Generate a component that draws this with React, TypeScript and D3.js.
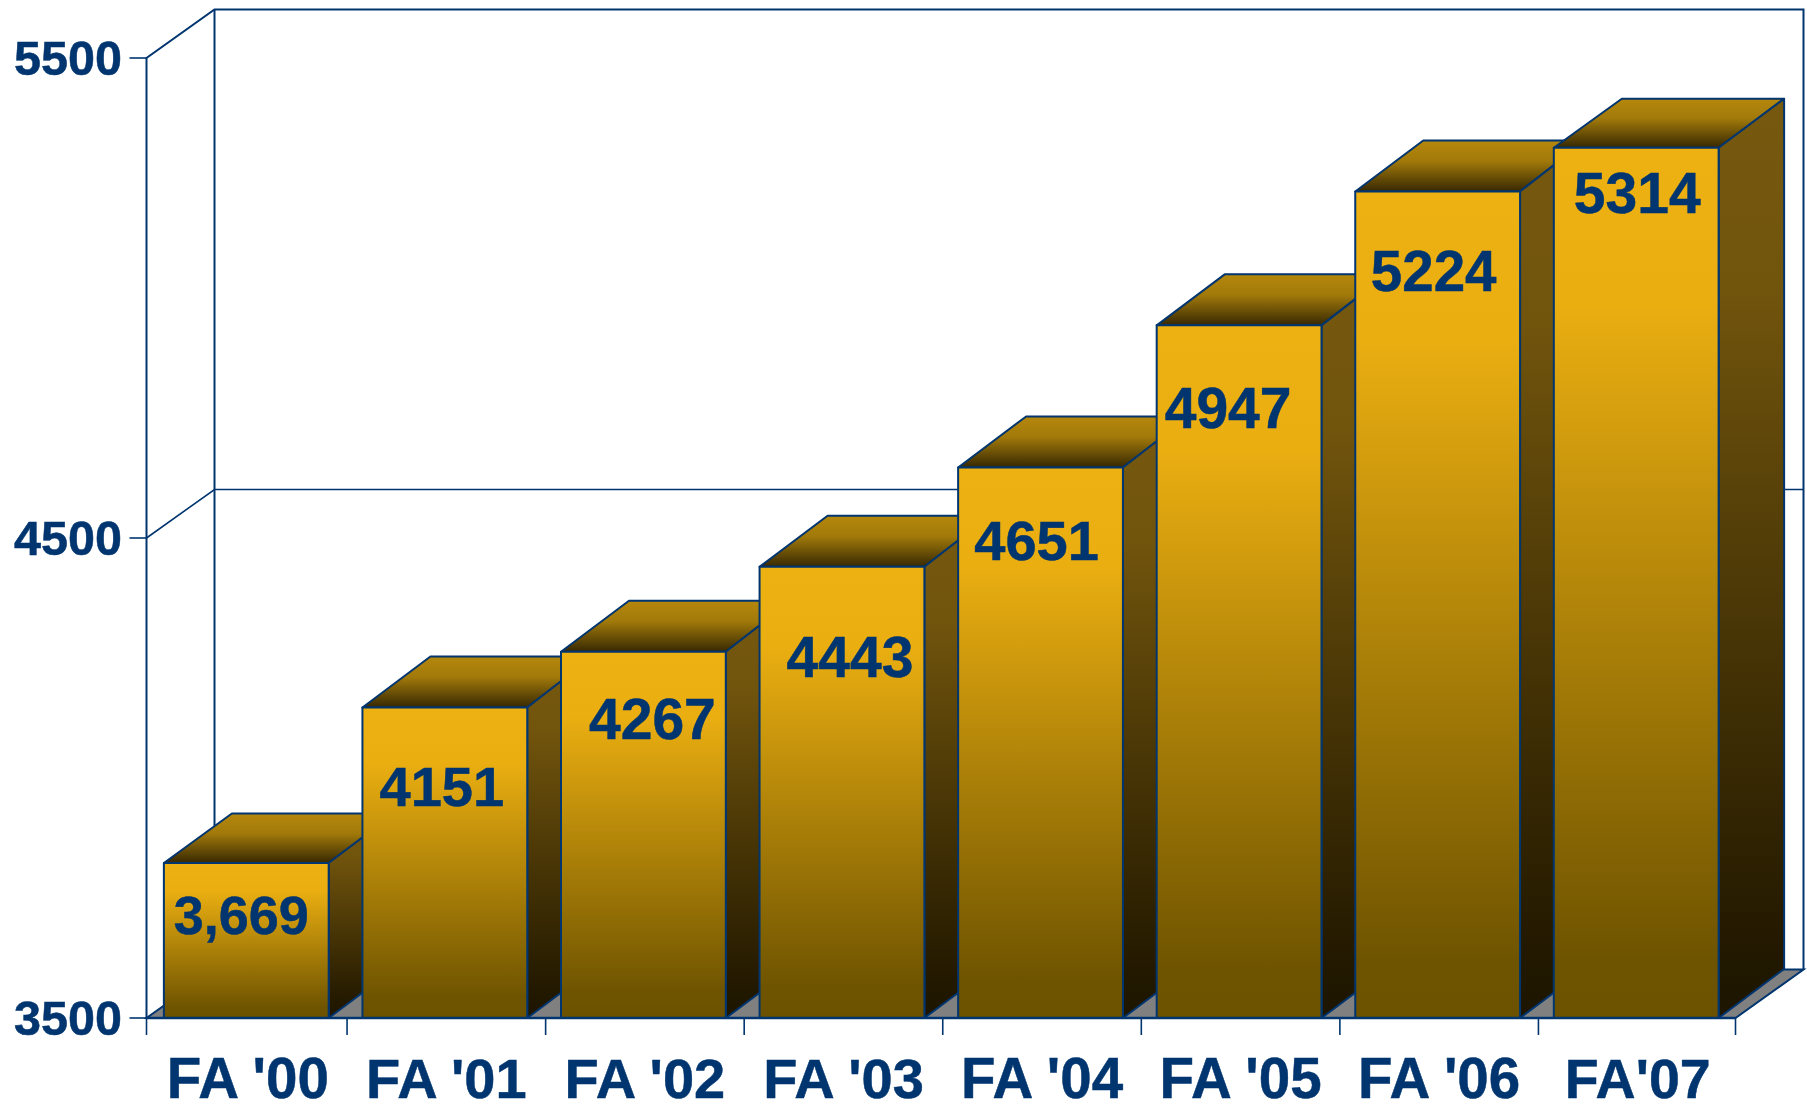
import React from "react";
import * as d3 from "d3";

const categories = ["FA '00", "FA '01", "FA '02", "FA '03", "FA '04", "FA '05", "FA '06", "FA'07"];
const barHeights = [3823, 4147, 4263, 4440, 4647, 4943, 5222, 5313];
const barLabels = ["3,669", "4151", "4267", "4443", "4651", "4947", "5224", "5314"];
const yTicks = [3500, 4500, 5500];
// Hand-placed label nudges from each bar's centre x, and drop below the bar top.
const labelDx = [-5, -3, 9, 8, -4, -11, -4, 1];
const labelDrop = [71, 99, 87, 110, 93, 103, 100, 65];
const labelSize = [54, 56, 57, 57, 56, 57, 56.5, 57];
const xLabelSize = [56.5, 56, 56, 56, 56.5, 56.5, 56.5, 55.5];
// The depth of the bars' top faces differs slightly from bar to bar.
const topDepth = [49.5, 51, 51, 51, 51, 51, 51, 49];

const W = 1807, H = 1104;
const LINE = "#00356f";
const x = d3.scaleBand<string>().domain(categories).range([147, 1735.5]).paddingInner(0.17).paddingOuter(0.085);
const y = d3.scaleLinear().domain([3500, 5500]).range([1018, 58]);
const AX0 = 146.5, AX1 = 1735.5;
const WALL_DX = 68, WALL_DY = 48.5, BACK_L = 68, BACK_R = 65.5;
const FONT = "'Liberation Sans', Arial, sans-serif";
const pts = (p: number[][]) => p.map((q) => q.join(",")).join(" ");

export default function App() {
  const x0 = AX0, x1 = AX1, yB = y(3500), yT = y(5500);
  return (
    <svg width={W} height={H} viewBox={`0 0 ${W} ${H}`} style={{ position: "absolute", left: 0, top: 0, background: "#fff" }}>
      <defs>
        <linearGradient id="front" x1="0" y1="0" x2="0" y2="1">
          <stop offset="0" stopColor="#edb112" />
          <stop offset="0.18" stopColor="#eaae11" />
          <stop offset="0.93" stopColor="#6f5400" />
          <stop offset="1" stopColor="#6c5200" />
        </linearGradient>
        <linearGradient id="side" x1="0" y1="0" x2="0" y2="1">
          <stop offset="0" stopColor="#76580f" />
          <stop offset="0.2" stopColor="#72550d" />
          <stop offset="0.92" stopColor="#231900" />
          <stop offset="1" stopColor="#1d1500" />
        </linearGradient>
        <linearGradient id="top" x1="0" y1="0" x2="0" y2="1">
          <stop offset="0" stopColor="#b5870c" />
          <stop offset="0.4" stopColor="#a27a0a" />
          <stop offset="1" stopColor="#382902" />
        </linearGradient>
      </defs>

      <g fill="none" stroke={LINE} strokeWidth={2}>
        <polyline points={pts([[x0, yB], [x0, yT], [x0 + WALL_DX, yT - WALL_DY], [x1 + WALL_DX, yT - WALL_DY], [x1 + WALL_DX, yB - WALL_DY]])} />
        <line x1={x0 + WALL_DX} x2={x0 + WALL_DX} y1={yT - WALL_DY} y2={yB - WALL_DY} />
        <polyline points={pts([[x0, y(4500)], [x0 + WALL_DX, y(4500) - WALL_DY], [x1 + WALL_DX, y(4500) - WALL_DY]])} strokeWidth={1.6} />
      </g>
      <polygon points={pts([[x0, yB], [x0 + WALL_DX, yB - WALL_DY], [x1 + WALL_DX, yB - WALL_DY], [x1, yB]])} fill="#808080" stroke={LINE} strokeWidth={2} />

      <g stroke={LINE} strokeWidth={1.6}>
        {yTicks.map((t) => <line key={t} x1={x0 - 17} x2={x0} y1={y(t)} y2={y(t)} />)}
        {categories.map((c, i) => {
          const tx = i === 0 ? x0 : x(c)! - x.step() * 0.085 + 1.5;
          return <line key={c} x1={tx} x2={tx} y1={yB} y2={yB + 17} />;
        })}
        <line x1={x1} x2={x1} y1={yB} y2={yB + 17} />
      </g>

      {categories.map((c, i) => {
        const l = x(c)!, r = l + x.bandwidth(), t = y(barHeights[i]), d = topDepth[i];
        return (
          <g key={c} stroke={LINE} strokeWidth={2} strokeLinejoin="round">
            <polygon points={pts([[l, t], [l + BACK_L, t - d], [r + BACK_R, t - d], [r, t]])} fill="url(#top)" />
            <polygon points={pts([[r, t], [r + BACK_R, t - d], [r + BACK_R, yB - 49], [r, yB]])} fill="url(#side)" />
            <rect x={l} y={t} width={r - l} height={yB - t} fill="url(#front)" />
          </g>
        );
      })}
      <line x1={x0} x2={x1} y1={yB} y2={yB} stroke={LINE} strokeWidth={2.4} />

      <g fontFamily={FONT} fontWeight={700} fill="#00356f" stroke="#00356f" strokeWidth={0.5}>
        {yTicks.map((t) => (
          <text key={t} x={122} y={y(t) + 17} textAnchor="end" fontSize={48.5}>{t}</text>
        ))}
        {categories.map((c, i) => (
          <text key={c} x={x(c)! + x.bandwidth() / 2 + 1.5} y={1098} textAnchor="middle" fontSize={xLabelSize[i]}>{c}</text>
        ))}
        {categories.map((c, i) => (
          <text key={c} x={x(c)! + x.bandwidth() / 2 + labelDx[i]} y={y(barHeights[i]) + labelDrop[i]} textAnchor="middle" fontSize={labelSize[i]}>{barLabels[i]}</text>
        ))}
      </g>
    </svg>
  );
}
